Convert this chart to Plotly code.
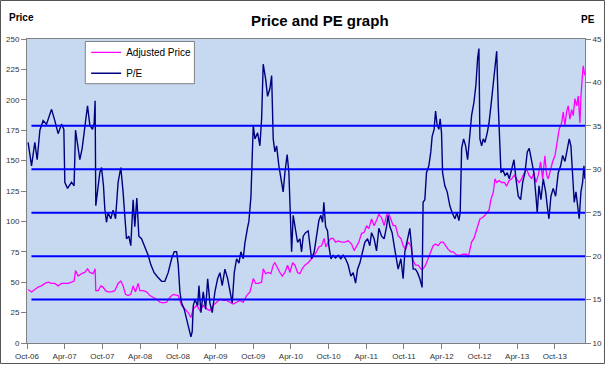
import datetime as dt
import plotly.graph_objects as go

# ---- data (decimal years / values) ----
pe_years = [
    2006.763, 2006.808, 2006.852, 2006.883, 2006.919, 2006.962, 2007.007, 2007.074,
    2007.117, 2007.161, 2007.206, 2007.237, 2007.250, 2007.286, 2007.339, 2007.373,
    2007.392, 2007.419, 2007.449, 2007.480, 2007.515, 2007.551, 2007.582, 2007.617,
    2007.639, 2007.652, 2007.661, 2007.684, 2007.714, 2007.737, 2007.763, 2007.781,
    2007.803, 2007.824, 2007.860, 2007.891, 2007.923, 2007.957, 2007.993, 2008.023,
    2008.046, 2008.068, 2008.099, 2008.125, 2008.156, 2008.178, 2008.205, 2008.232,
    2008.267, 2008.311, 2008.355, 2008.391, 2008.434, 2008.480, 2008.533, 2008.576,
    2008.620, 2008.665, 2008.700, 2008.732, 2008.753, 2008.775, 2008.798, 2008.832,
    2008.864, 2008.895, 2008.921, 2008.938, 2008.952, 2008.974, 2009.010, 2009.027,
    2009.054, 2009.084, 2009.116, 2009.143, 2009.173, 2009.204, 2009.239, 2009.275,
    2009.306, 2009.336, 2009.372, 2009.408, 2009.438, 2009.469, 2009.496, 2009.527,
    2009.558, 2009.584, 2009.615, 2009.637, 2009.673, 2009.690, 2009.717, 2009.730,
    2009.748, 2009.770, 2009.806, 2009.836, 2009.859, 2009.880, 2009.912, 2009.938,
    2009.969, 2009.992, 2010.013, 2010.035, 2010.058, 2010.088, 2010.115, 2010.145,
    2010.168, 2010.198, 2010.221, 2010.238, 2010.257, 2010.278, 2010.310, 2010.336,
    2010.367, 2010.389, 2010.411, 2010.442, 2010.477, 2010.500, 2010.522, 2010.557,
    2010.588, 2010.619, 2010.645, 2010.668, 2010.685, 2010.708, 2010.734, 2010.751,
    2010.778, 2010.808, 2010.840, 2010.875, 2010.911, 2010.941, 2010.973, 2011.007,
    2011.043, 2011.074, 2011.106, 2011.132, 2011.163, 2011.176, 2011.206, 2011.229,
    2011.265, 2011.295, 2011.318, 2011.352, 2011.384, 2011.415, 2011.451, 2011.485,
    2011.517, 2011.538, 2011.561, 2011.591, 2011.618, 2011.649, 2011.671, 2011.707,
    2011.737, 2011.760, 2011.795, 2011.826, 2011.848, 2011.870, 2011.901, 2011.928,
    2011.959, 2011.989, 2012.002, 2012.025, 2012.047, 2012.078, 2012.104, 2012.122,
    2012.148, 2012.167, 2012.188, 2012.211, 2012.228, 2012.246, 2012.260, 2012.290,
    2012.321, 2012.356, 2012.387, 2012.423, 2012.449, 2012.476, 2012.493, 2012.512,
    2012.538, 2012.565, 2012.591, 2012.622, 2012.644, 2012.675, 2012.701, 2012.724,
    2012.741, 2012.754, 2012.777, 2012.798, 2012.821, 2012.851, 2012.874, 2012.900,
    2012.931, 2012.953, 2012.976, 2012.997, 2013.020, 2013.033, 2013.055, 2013.086,
    2013.116, 2013.143, 2013.175, 2013.205, 2013.232, 2013.262, 2013.294, 2013.321,
    2013.351, 2013.382, 2013.408, 2013.440, 2013.470, 2013.497, 2013.514, 2013.537,
    2013.563, 2013.594, 2013.626, 2013.652, 2013.669, 2013.696, 2013.726, 2013.758,
    2013.793, 2013.825, 2013.851, 2013.882, 2013.912, 2013.939, 2013.961, 2013.978,
    2014.005, 2014.028, 2014.050, 2014.071, 2014.094, 2014.116, 2014.134, 2014.147,
]
pe_values = [
    33.1, 30.4, 33.1, 31.1, 34.5, 35.6, 35.2, 36.9,
    35.6, 34.1, 35.2, 34.6, 28.5, 27.8, 28.5, 28.1,
    34.5, 33.1, 31.1, 32.4, 35.1, 37.3, 35.1, 34.6,
    35.3, 37.9, 25.8, 27.4, 29.6, 30.2, 28.1, 25.4,
    23.9, 25.0, 24.3, 25.3, 24.3, 28.5, 30.2, 27.4,
    24.3, 22.0, 22.3, 21.2, 26.5, 23.4, 26.7, 22.3,
    22.0, 21.1, 20.1, 19.0, 18.1, 17.6, 17.1, 17.1,
    18.1, 19.7, 20.5, 20.5, 19.0, 15.9, 14.6, 13.9,
    12.8, 11.7, 10.7, 11.3, 14.3, 15.0, 14.3, 16.6,
    13.5, 15.9, 13.9, 17.4, 14.6, 13.5, 15.9, 17.4,
    18.1, 16.6, 18.5, 17.4, 15.9, 14.6, 18.1, 19.7,
    19.2, 20.5, 19.7, 21.5, 23.3, 24.0, 26.8, 29.6,
    35.1, 33.5, 34.2, 32.7, 35.8, 42.1, 40.4, 38.4,
    39.3, 40.8, 33.5, 32.0, 32.7, 30.4, 28.9, 27.4,
    29.6, 31.7, 29.6, 25.0, 20.5, 24.7, 22.7, 21.6,
    22.0, 20.5, 22.3, 22.7, 22.9, 21.2, 19.7, 20.5,
    22.6, 24.1, 24.7, 23.9, 26.2, 23.4, 22.9, 21.2,
    19.7, 20.1, 19.8, 20.1, 19.7, 20.1, 19.7, 19.0,
    17.7, 18.1, 16.9, 18.5, 19.2, 19.7, 20.5, 21.6,
    22.0, 21.2, 22.7, 22.0, 20.6, 23.2, 22.3, 22.0,
    23.4, 24.7, 23.4, 22.7, 21.2, 19.7, 18.5, 19.7,
    17.4, 20.5, 22.0, 23.2, 21.2, 18.5, 18.5, 18.1,
    17.4, 16.4, 26.2, 26.5, 29.6, 30.4, 32.0, 33.8,
    34.6, 36.7, 35.1, 34.6, 35.8, 34.2, 29.6, 28.1,
    27.4, 25.8, 25.0, 24.3, 25.0, 24.1, 25.0, 32.4,
    33.5, 32.7, 31.1, 34.6, 36.2, 37.7, 39.7, 42.8,
    43.9, 33.5, 32.7, 33.5, 33.1, 34.2, 35.3, 37.3,
    40.0, 41.5, 43.6, 37.3, 32.4, 29.6, 30.0, 29.3,
    29.6, 28.9, 30.0, 31.1, 28.9, 26.9, 26.5, 28.5,
    29.6, 32.0, 32.4, 30.9, 29.6, 26.9, 25.0, 28.1,
    26.5, 28.9, 27.4, 25.4, 24.3, 26.9, 27.8, 26.9,
    29.6, 30.4, 31.6, 30.9, 32.4, 33.5, 32.7, 30.4,
    26.2, 27.4, 25.8, 24.3, 27.4, 28.5, 30.4, 28.9,
]

price_years = [
    2006.763, 2006.808, 2006.852, 2006.896, 2006.941, 2006.985, 2007.029, 2007.074,
    2007.117, 2007.161, 2007.206, 2007.250, 2007.294, 2007.339, 2007.373, 2007.392,
    2007.427, 2007.472, 2007.515, 2007.551, 2007.582, 2007.625, 2007.652, 2007.661,
    2007.692, 2007.728, 2007.758, 2007.790, 2007.824, 2007.869, 2007.913, 2007.957,
    2007.993, 2008.023, 2008.055, 2008.090, 2008.125, 2008.156, 2008.188, 2008.222,
    2008.245, 2008.289, 2008.334, 2008.378, 2008.421, 2008.466, 2008.510, 2008.554,
    2008.599, 2008.643, 2008.687, 2008.732, 2008.753, 2008.798, 2008.842, 2008.885,
    2008.921, 2008.952, 2008.997, 2009.041, 2009.084, 2009.130, 2009.173, 2009.217,
    2009.262, 2009.306, 2009.350, 2009.395, 2009.438, 2009.482, 2009.527, 2009.571,
    2009.615, 2009.660, 2009.704, 2009.734, 2009.748, 2009.779, 2009.814, 2009.859,
    2009.880, 2009.912, 2009.947, 2009.982, 2010.013, 2010.035, 2010.071, 2010.102,
    2010.132, 2010.168, 2010.204, 2010.234, 2010.270, 2010.301, 2010.336, 2010.367,
    2010.397, 2010.433, 2010.477, 2010.522, 2010.557, 2010.588, 2010.619, 2010.655,
    2010.689, 2010.712, 2010.742, 2010.778, 2010.808, 2010.840, 2010.875, 2010.920,
    2010.964, 2011.007, 2011.053, 2011.087, 2011.119, 2011.149, 2011.185, 2011.220,
    2011.252, 2011.282, 2011.318, 2011.352, 2011.384, 2011.415, 2011.451, 2011.485,
    2011.517, 2011.538, 2011.574, 2011.604, 2011.636, 2011.671, 2011.707, 2011.737,
    2011.769, 2011.803, 2011.839, 2011.870, 2011.901, 2011.936, 2011.972, 2012.002,
    2012.034, 2012.069, 2012.104, 2012.135, 2012.167, 2012.201, 2012.237, 2012.268,
    2012.299, 2012.334, 2012.370, 2012.400, 2012.445, 2012.489, 2012.533, 2012.578,
    2012.599, 2012.622, 2012.644, 2012.675, 2012.701, 2012.732, 2012.754, 2012.785,
    2012.821, 2012.851, 2012.874, 2012.900, 2012.931, 2012.953, 2012.976, 2013.006,
    2013.042, 2013.077, 2013.108, 2013.139, 2013.175, 2013.209, 2013.241, 2013.272,
    2013.307, 2013.342, 2013.374, 2013.404, 2013.440, 2013.470, 2013.497, 2013.528,
    2013.559, 2013.586, 2013.616, 2013.639, 2013.660, 2013.692, 2013.718, 2013.749,
    2013.780, 2013.806, 2013.838, 2013.859, 2013.882, 2013.904, 2013.925, 2013.948,
    2013.970, 2013.992, 2014.014, 2014.037, 2014.058, 2014.081, 2014.094, 2014.111,
    2014.124, 2014.138, 2014.147,
]
price_values = [
    44, 42, 44, 46, 47, 49, 50, 49,
    49, 47, 49, 49, 49, 50, 51, 59.5,
    55, 57, 58, 61, 58, 57, 61, 43,
    43, 47, 46, 43, 42, 42, 43, 49,
    51, 47, 40, 39, 40, 47, 42, 49,
    43, 43, 42, 39, 37.6, 36, 33.5, 33,
    33.5, 37.6, 40, 39, 39, 31, 28, 25,
    21, 28, 31, 26.6, 31, 28, 26.6, 31,
    33.5, 36, 35, 35, 33.5, 32, 33.5, 35,
    33.5, 39, 42, 49, 53, 49, 49, 50,
    61, 57, 58, 57, 64, 66, 61, 58,
    55, 58, 64, 58, 66, 64, 58, 57,
    61, 64, 66, 69, 72, 75, 79, 80,
    86, 79, 83, 86, 86, 83, 84, 83,
    83, 84, 81.4, 76, 80, 83, 90, 91,
    96.5, 94, 102, 96.5, 101, 106, 103, 96.5,
    105, 107.5, 102, 96.5, 96.5, 88, 86, 80,
    77, 83, 80, 68, 64, 64, 61, 61,
    64, 69, 75, 80, 81.4, 80, 83, 83,
    80, 77, 75, 75, 72.4, 72, 73, 73,
    70.5, 77, 83, 86, 91, 96.5, 102, 103,
    105, 107.5, 109, 118, 124, 135, 132, 133.5,
    132, 132, 129, 133.5, 135, 138, 135, 132,
    135, 140, 143, 138, 135, 140, 132, 138,
    149, 135, 154, 138, 135, 143, 149, 154,
    168, 176, 181, 190, 179, 190, 195, 184,
    192, 187, 201, 195, 203, 181, 203, 217,
    228, 223, 220,
]

pe_levels = [15, 20, 25, 30, 35]          # horizontal P/E reference lines
price_ticks = list(range(0, 251, 25))
pe_ticks = list(range(10, 46, 5))

assert len(pe_years) == len(pe_values)
assert len(price_years) == len(price_values)


def to_date(y):
    yr = int(y)
    start = dt.datetime(yr, 1, 1)
    days = (dt.datetime(yr + 1, 1, 1) - start).days
    return start + dt.timedelta(days=(y - yr) * days)


FONT = "Arial, 'Liberation Sans', sans-serif"

fig = go.Figure()
fig.add_trace(go.Scatter(
    x=[to_date(v) for v in price_years], y=price_values, name="Adjusted Price",
    mode="lines", line=dict(color="#FF00FF", width=1.3), yaxis="y",
    legendgroup="a"))
fig.add_trace(go.Scatter(
    x=[to_date(v) for v in pe_years], y=pe_values, name="P/E",
    mode="lines", line=dict(color="#000080", width=1.4), yaxis="y2",
    legendgroup="b"))

for lvl in pe_levels:
    fig.add_shape(type="line", xref="paper", yref="y2", x0=0.008, x1=1,
                  y0=lvl, y1=lvl, line=dict(color="#0000FF", width=2), layer="above")

# legend box
fig.add_shape(type="rect", xref="paper", yref="paper",
              x0=0.1045, x1=0.3, y0=0.853, y1=0.9918,
              line=dict(color="#808080", width=1), fillcolor="white", layer="above")

# chart-area border
fig.add_shape(type="rect", xref="paper", yref="paper",
              x0=-0.0475, x1=1.0349, y0=-0.0674, y1=1.1266,
              line=dict(color="#555555", width=1), fillcolor="rgba(0,0,0,0)")

axis_common = dict(showgrid=False, zeroline=False, ticks="outside", ticklen=5,
                   tickcolor="#808080", showline=True, linecolor="#808080", linewidth=1,
                   automargin=False,
                   tickfont=dict(family=FONT, size=8, color="#333333"))

fig.update_layout(
    width=606, height=366,
    margin=dict(l=27, r=21, t=39, b=23, autoexpand=False),
    paper_bgcolor="white", plot_bgcolor="#C6D9F1",
    showlegend=True,
    legend=dict(x=0.106, y=1.004, xanchor="left", yanchor="top",
                bgcolor="rgba(0,0,0,0)", borderwidth=0,
                font=dict(family=FONT, size=10, color="#000000"),
                itemwidth=30, tracegroupgap=2),
    xaxis=dict(type="date", range=[to_date(2006.748), to_date(2014.148)],
               tick0="2006-10-01", dtick="M6", tickformat="%b-%y",
               mirror=True, **axis_common),
    yaxis=dict(range=[0, 250], tickvals=price_ticks, **axis_common),
    yaxis2=dict(range=[10, 45], tickvals=pe_ticks, overlaying="y", side="right",
                **axis_common),
    annotations=[
        dict(text="<b>Price and PE graph</b>", xref="paper", yref="paper",
             x=0.525, y=1.0625, xanchor="center", yanchor="middle", showarrow=False,
             font=dict(family=FONT, size=15, color="#000000")),
        dict(text="<b>Price</b>", xref="paper", yref="paper",
             x=-0.009, y=1.07, xanchor="center", yanchor="middle", showarrow=False,
             font=dict(family=FONT, size=10, color="#000000")),
        dict(text="<b>PE</b>", xref="paper", yref="paper",
             x=1.0054, y=1.065, xanchor="center", yanchor="middle", showarrow=False,
             font=dict(family=FONT, size=10, color="#000000")),
    ],
)

fig.write_html(
    "out.html",
    config={"displayModeBar": False},
    post_script="document.body.style.margin='0';document.body.style.overflow='hidden';",
)
